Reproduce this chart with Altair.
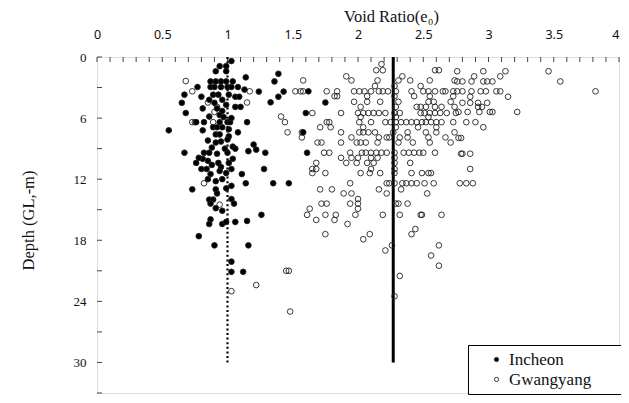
import altair as alt
import pandas as pd

# ---------------- data ----------------
incheon_e = [1.03, 0.99, 0.94, 0.91, 0.99, 1.39, 1.14, 1.36, 0.87, 0.91, 0.95, 0.99, 1.04,
             0.77, 0.87, 0.90, 0.95, 1.00, 1.03, 1.08, 1.24, 1.13, 1.39, 1.43, 0.67, 0.80,
             0.89, 0.93, 1.01, 1.06, 1.09, 1.33, 0.65, 0.86, 0.90, 0.96, 0.99, 1.06, 1.10,
             0.81, 0.92, 0.96, 0.68, 0.86, 0.94, 0.76, 0.82, 0.94, 1.00, 1.02, 1.15, 0.55,
             0.81, 0.89, 0.92, 0.96, 1.01, 1.08, 0.91, 0.94, 0.85, 1.01, 0.95, 1.00, 0.91,
             1.04, 1.06, 1.20, 1.22, 1.16, 1.29, 0.67, 0.82, 0.86, 0.92, 1.00, 0.81, 0.76,
             0.85, 0.93, 1.01, 0.97, 1.03, 0.88, 0.98, 0.78, 0.95, 1.04, 0.88,
             1.62, 1.75, 1.60, 1.58, 1.61,
             0.80, 0.84, 0.94, 0.99, 1.03, 1.11, 1.28, 0.87, 0.85, 0.91, 0.96, 1.03, 1.14,
             1.35, 1.47, 0.73, 0.91, 0.99, 0.92, 0.86, 0.89, 1.03, 0.87, 1.05, 0.91, 0.96,
             0.87, 0.86, 0.96, 0.99, 1.06, 1.15, 1.26, 0.78, 0.90, 1.16, 1.03, 1.03, 1.12]
incheon_d = [0.4, 0.9, 0.9, 1.4, 1.4, 1.65, 2.0, 2.4, 2.4, 2.4, 2.4, 2.4, 2.4,
             2.95, 2.95, 2.95, 2.95, 2.95, 2.95, 2.95, 3.4, 3.2, 3.9, 3.4, 3.7, 3.9,
             3.7, 3.7, 3.7, 3.9, 3.9, 4.45, 4.5, 4.2, 4.5, 4.2, 4.7, 4.9, 4.9,
             5.05, 5.05, 5.3, 5.5, 5.85, 5.7, 6.4, 6.4, 6.4, 6.4, 6.4, 6.4, 7.2,
             7.2, 6.9, 6.9, 6.9, 7.1, 7.4, 7.6, 7.6, 8.2, 7.8, 8.3, 8.1, 8.4,
             8.8, 9.0, 8.6, 9.1, 9.25, 9.4, 9.4, 9.4, 9.4, 9.5, 9.4, 10.0, 10.4,
             10.2, 10.4, 10.4, 5.9, 6.0, 8.9, 9.0, 9.9, 10.8, 10.0, 10.6,
             3.37, 4.47, 5.5, 7.4, 9.4,
             11.0, 11.0, 11.2, 11.4, 11.0, 11.5, 11.0, 11.5, 12.0, 12.2, 12.0, 12.65, 12.4,
             12.4, 12.4, 13.0, 13.0, 12.9, 13.4, 14.0, 14.0, 13.95, 14.4, 14.4, 14.85, 15.1,
             15.95, 16.4, 16.4, 16.2, 16.2, 16.1, 15.5, 17.6, 18.5, 18.5, 20.1, 21.1, 21.1]

gwangyang_e = [2.18, 2.14, 2.19, 2.59, 2.62, 1.91, 2.34,
               1.58, 1.95, 2.15, 2.31, 2.40, 2.55, 2.74, 2.13, 2.28, 2.48,
               1.52, 1.56, 1.58, 1.76, 1.84, 1.97, 2.01, 2.05, 2.10, 2.16, 2.19, 2.23, 2.29,
               2.41, 2.50, 2.54, 2.59, 2.65, 2.67, 2.73,
               1.82, 1.84, 2.07, 2.28, 2.43, 2.55, 2.73,
               1.97, 2.07, 2.17, 2.31, 2.54, 2.58, 2.71,
               2.02, 2.29, 2.45, 2.48, 2.52, 2.59, 2.64, 2.74,
               1.65, 1.87, 2.00, 2.04, 2.08, 2.12, 2.16, 2.21, 2.28, 2.32, 2.48, 2.51, 2.55,
               2.59, 2.63, 2.68, 2.75,
               2.02, 2.29, 2.54,
               1.76, 1.78, 2.01, 2.10, 2.21, 2.25, 2.29, 2.33, 2.37, 2.41, 2.45, 2.49, 2.52,
               2.56, 2.60, 2.64, 2.73,
               1.71, 1.79, 2.04, 2.29, 2.46, 2.60,
               1.57, 1.87, 2.01, 2.04, 2.08, 2.13, 2.27, 2.38, 2.52, 2.60, 2.74,
               1.57, 1.95, 2.16, 2.22, 2.24, 2.32, 2.38, 2.54, 2.67,
               1.69, 1.72, 1.87, 1.99, 2.02, 2.06, 2.15, 2.31, 2.42, 2.55, 2.71,
               1.74, 1.78, 1.94, 2.03, 2.06, 2.10, 2.14, 2.18, 2.22, 2.28, 2.35, 2.39, 2.43,
               2.47, 2.50, 2.59,
               1.87, 1.95, 2.00, 2.10, 2.15, 2.28,
               1.68, 1.91, 1.99, 2.07, 2.12, 2.28, 2.40,
               1.65, 1.68, 2.10, 2.28, 2.86,
               1.65, 1.75, 2.02, 2.09, 2.17, 2.28, 2.41, 2.49, 2.54, 2.56,
               1.94, 2.22, 2.24, 2.28, 2.34, 2.37, 2.41, 2.45, 2.51, 2.58, 2.78, 2.83, 2.88,
               1.71, 1.80, 2.16, 2.33, 1.89, 1.95, 2.22, 2.53, 2.00,
               1.72, 1.76, 1.94, 2.00, 2.29, 2.31, 2.38, 1.63, 2.00,
               1.61, 1.75, 1.83, 1.98, 2.19, 2.32, 2.48, 2.49, 2.64,
               1.68, 1.82, 1.92, 2.44, 1.75, 2.09, 2.41, 2.04, 2.26, 2.62, 2.21, 2.56, 2.62,
               1.47, 2.32, 2.28, 1.48,
               2.76, 2.96, 3.13, 3.46, 2.89, 3.09,
               2.76, 2.80, 2.87, 2.96, 2.99, 3.03, 3.55,
               2.76, 2.80, 2.87, 2.94, 2.98, 3.06, 3.09, 3.82,
               2.86, 3.15, 2.80, 2.86, 2.92, 2.99, 2.92, 2.95,
               2.77, 2.84, 2.93, 3.01, 3.03, 3.22, 2.83, 2.90, 2.96, 2.77, 2.79,
               2.79, 2.80, 2.86,
               0.68, 0.73, 1.17, 0.85, 1.15, 0.92, 0.90, 0.73, 0.75, 0.89, 1.41, 1.44, 1.46,
               0.82, 0.94, 1.45, 1.22, 1.03]
gwangyang_d = [0.7, 1.3, 1.3, 1.3, 1.3, 1.9, 1.9,
               2.3, 2.3, 2.3, 2.3, 2.3, 2.3, 2.3, 2.85, 2.85, 2.85,
               3.37, 3.37, 3.37, 3.37, 3.37, 3.37, 3.37, 3.37, 3.37, 3.37, 3.37, 3.37, 3.37,
               3.37, 3.37, 3.37, 3.37, 3.37, 3.37, 3.37,
               3.85, 3.85, 3.85, 3.85, 3.85, 3.85, 3.85,
               4.4, 4.4, 4.4, 4.4, 4.4, 4.4, 4.4,
               4.9, 4.9, 4.9, 4.9, 4.9, 4.9, 4.9, 4.9,
               5.5, 5.5, 5.5, 5.5, 5.5, 5.5, 5.5, 5.5, 5.5, 5.5, 5.5, 5.5, 5.5,
               5.5, 5.5, 5.5, 5.5,
               5.9, 5.9, 5.9,
               6.4, 6.4, 6.4, 6.4, 6.4, 6.4, 6.4, 6.4, 6.4, 6.4, 6.4, 6.4, 6.4,
               6.4, 6.4, 6.4, 6.4,
               6.9, 6.9, 6.9, 6.9, 6.9, 6.9,
               7.4, 7.4, 7.4, 7.4, 7.4, 7.4, 7.4, 7.4, 7.4, 7.4, 7.4,
               7.9, 7.9, 7.9, 7.9, 7.9, 7.9, 7.9, 7.9, 7.9,
               8.4, 8.4, 8.4, 8.4, 8.4, 8.4, 8.4, 8.4, 8.4, 8.4, 8.4,
               9.4, 9.4, 9.4, 9.4, 9.4, 9.4, 9.4, 9.4, 9.4, 9.4, 9.4, 9.4, 9.4,
               9.4, 9.4, 9.4,
               9.9, 9.9, 9.9, 9.9, 9.9, 9.9,
               10.4, 10.4, 10.4, 10.4, 10.4, 10.4, 10.4,
               11.0, 11.0, 11.0, 11.0, 11.0,
               11.4, 11.4, 11.4, 11.4, 11.4, 11.4, 11.4, 11.4, 11.4, 11.4,
               12.4, 12.4, 12.4, 12.4, 12.4, 12.4, 12.4, 12.4, 12.4, 12.4, 12.4, 12.4, 12.4,
               13.0, 13.0, 13.0, 13.0, 13.4, 13.4, 13.4, 13.4, 13.95,
               14.4, 14.4, 14.4, 14.4, 14.4, 14.4, 14.4, 14.9, 14.9,
               15.5, 15.5, 15.5, 15.5, 15.5, 15.5, 15.5, 15.5, 15.5,
               16.0, 16.0, 16.4, 16.9, 17.4, 17.4, 17.4, 17.9, 18.5, 18.5, 19.0, 19.5, 20.5,
               21.0, 21.5, 23.5, 25.0,
               1.4, 1.4, 1.4, 1.4, 1.9, 1.9,
               2.4, 2.4, 2.4, 2.4, 2.4, 2.4, 2.4,
               3.37, 3.37, 3.37, 3.37, 3.37, 3.37, 3.37, 3.37,
               3.9, 3.9, 4.5, 4.5, 4.5, 4.5, 4.9, 4.9,
               5.4, 5.4, 5.4, 5.4, 5.4, 5.4, 6.4, 6.4, 6.9, 7.95, 7.95,
               9.5, 9.5, 9.5,
               2.36, 3.37, 3.37, 4.47, 4.47, 4.9, 5.4, 6.4, 6.4, 6.4, 5.85, 6.4, 7.4,
               12.4, 14.5, 21.0, 22.4, 23.0]

sites = ["Incheon", "Gwangyang"]
mean_lines_e = [1.0, 2.27]        # reference lines (Incheon dotted, Gwangyang solid)
line_depth = [0, 30]
x_ticks = [0, 0.5, 1, 1.5, 2, 2.5, 3, 3.5, 4]
x_minor = [round(i / 10, 1) for i in range(0, 41)]
y_ticks = [0, 3, 6, 9, 12, 15, 18, 21, 24, 27, 30, 33]

# ---------------- build chart ----------------
df = pd.DataFrame({
    "e": gwangyang_e + incheon_e,
    "d": gwangyang_d + incheon_d,
    "site": ["Gwangyang"] * len(gwangyang_e) + ["Incheon"] * len(incheon_e),
})

serif = "Liberation Serif"
sans = "Noto Sans"

xscale = alt.Scale(domain=[0, 4], nice=False, zero=False)
yscale = alt.Scale(domain=[0, 33], reverse=True, nice=False, zero=False)

points = alt.Chart(df).mark_point(
    shape="circle", size=32, strokeWidth=0.9, stroke="#222", opacity=1
).encode(
    x=alt.X("e:Q", scale=xscale, axis=alt.Axis(
        orient="top", values=x_ticks, format="~g", title="Void Ratio(e\u2080)", grid=False,
        domain=False, tickSize=0, labelPadding=16, labelFont=sans, labelFontSize=12.5,
        labelColor="#111", labelOverlap=False, labelFlush=False,
        labelAlign={"expr": "datum.value >= 4 ? 'right' : 'center'"},
        titleFont=serif, titleFontSize=16.5, titleFontWeight="normal",
        titleColor="#111", titleX=294, titleY=-41, titleBaseline="middle",
        titleAlign="center")),
    y=alt.Y("d:Q", scale=yscale, axis=alt.Axis(
        values=y_ticks, title="Depth (GL,-m)", grid=False, domain=False, tickSize=0,
        labelPadding=11, labelFont=serif, labelFontSize=13, labelColor="#111",
        labelOverlap=False, labelFlush=False,
        titleFont=serif, titleFontSize=16.5, titleFontWeight="normal", titleColor="#111",
        titleX=-69, titleY=163, titleBaseline="middle", titleAlign="center",
        titleAngle=-90)),
    fill=alt.Fill("site:N", scale=alt.Scale(domain=sites, range=["black", "transparent"]),
                  legend=alt.Legend(
                      title="\u00a0", titleOrient="right", titlePadding=31,
                      orient="none", legendX=371, legendY=288,
                      direction="vertical", strokeColor="black", fillColor="white",
                      padding=6, symbolOffset=14, symbolSize=18, symbolType="circle",
                      symbolStrokeColor="#222", symbolStrokeWidth=0.9,
                      labelFont=serif, labelFontSize=17, labelColor="#111",
                      labelOffset=4, rowPadding=2)),
    order=alt.Order("site:N", sort="ascending"),
)

lines_df = pd.DataFrame({"e": mean_lines_e, "d0": [line_depth[0]] * 2,
                         "d1": [line_depth[1]] * 2, "site": sites})
dotted = alt.Chart(lines_df[lines_df.site == "Incheon"]).mark_rule(
    color="black", strokeWidth=2.2, strokeDash=[2, 2.6]
).encode(x=alt.X("e:Q", scale=xscale), y=alt.Y("d0:Q", scale=yscale), y2="d1:Q")
solid = alt.Chart(lines_df[lines_df.site == "Gwangyang"]).mark_rule(
    color="black", strokeWidth=3
).encode(x=alt.X("e:Q", scale=xscale), y=alt.Y("d0:Q", scale=yscale), y2="d1:Q")

xt = alt.Chart(pd.DataFrame({"t": x_minor})).mark_rule(color="#444", strokeWidth=1).encode(
    x=alt.X("t:Q", scale=xscale), y=alt.value(0), y2=alt.value(5))
yt = alt.Chart(pd.DataFrame({"t": y_ticks})).mark_rule(color="#444", strokeWidth=1).encode(
    y=alt.Y("t:Q", scale=yscale), x=alt.value(0), x2=alt.value(5))

chart = alt.layer(xt, yt, dotted, solid, points).properties(
    width=522, height=336,
    autosize=alt.AutoSizeParams(type="none"),
    padding={"left": 89, "top": 49, "right": 2, "bottom": 2},
).configure_view(stroke="#333", strokeWidth=1.2).configure_legend(
    labelFont=serif, labelFontSize=17
).configure(background="white")

chart.save("out.html", embed_options={"renderer": "svg", "actions": False})
